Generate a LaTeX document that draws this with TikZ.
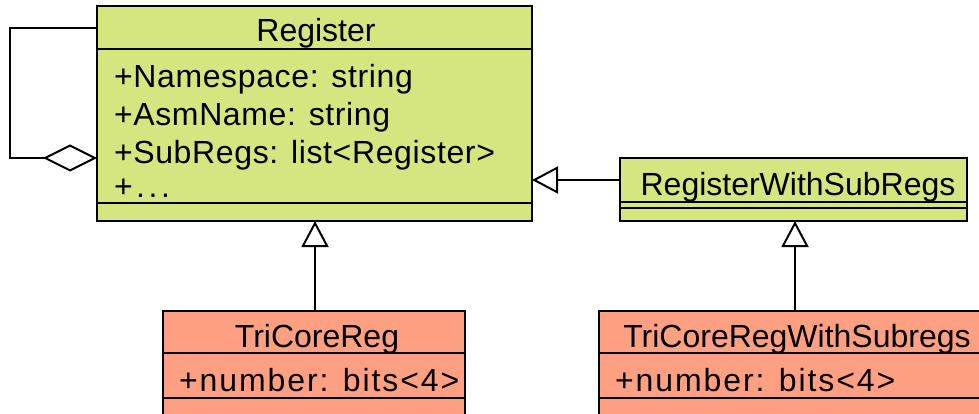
\documentclass[tikz,border=0pt]{standalone}
\usepackage{fontspec}
\setmainfont{Liberation Sans}
\usetikzlibrary{arrows.meta}
\definecolor{clsgreen}{RGB}{213,229,127}
\definecolor{clssalmon}{RGB}{255,160,130}
\begin{document}
\begin{tikzpicture}[x=1pt,y=-1pt,line width=2pt,
  classbox/.style={draw=black,line width=2pt,anchor=north west,inner sep=0pt,outer sep=0pt},
  regbox/.style={classbox,fill=clsgreen},
  tribox/.style={classbox,fill=clssalmon},
  title/.style={inner sep=0pt,anchor=base,font=\fontsize{32}{38}\selectfont},
  attr/.style={inner sep=0pt,anchor=base west,font=\fontsize{32}{38}\selectfont\addfontfeature{LetterSpace=2}},
  dots/.style={inner sep=0pt,anchor=base west,font=\fontsize{32}{38}\selectfont\addfontfeature{LetterSpace=11}},
  sattr/.style={inner sep=0pt,anchor=base west,font=\fontsize{32}{38}\selectfont\addfontfeature{LetterSpace=6}},
  gen/.style={-{Triangle[open,length=26pt,width=27pt]}},
  agg/.style={{Diamond[open,length=54pt,width=27pt]}-}
]
\useasboundingbox (0,0) rectangle (979,414);
\clip (0,0) rectangle (979,414);
% Register
\node[regbox,minimum width=435,minimum height=215] (reg) at (97,6) {};
\draw (reg.west |- 0,49) -- (reg.east |- 0,49);
\draw (reg.west |- 0,203) -- (reg.east |- 0,203);
\node[title] (regt) at (316,42) {Register};
\node[attr] (a1) at (113,88) {+Namespace: string};
\node[attr] (a2) at (113,126) {+AsmName: string};
\node[attr] (a3) at (113,164) {+SubRegs: list<Register>};
\node[dots] (a4) at (113,197) {+...};
% RegisterWithSubRegs
\node[regbox,minimum width=347,minimum height=63] (rws) at (620,158) {};
\draw (rws.west |- 0,202) -- (rws.east |- 0,202);
\draw (rws.west |- 0,208) -- (rws.east |- 0,208);
\node[title] (rwst) at (798,195) {RegisterWithSubRegs};
% TriCoreReg
\node[tribox,minimum width=302,minimum height=140] (tcr) at (163,311) {};
\draw (tcr.west |- 0,353) -- (tcr.east |- 0,353);
\draw (tcr.west |- 0,398) -- (tcr.east |- 0,398);
\node[title] (tcrt) at (317,347) {TriCoreReg};
\node[sattr] (tcra) at (178,391) {+number: bits<4>};
% TriCoreRegWithSubregs
\node[tribox,minimum width=392,minimum height=140] (tcs) at (599,311) {};
\draw (tcs.west |- 0,353) -- (tcs.east |- 0,353);
\draw (tcs.west |- 0,398) -- (tcs.east |- 0,398);
\node[title] (tcst) at (797,347) {TriCoreRegWithSubregs};
\node[sattr] (tcsa) at (614,391) {+number: bits<4>};
% connectors
\draw[agg] (reg.west |- 0,158) -- (10,158) -- (10,28) -- (reg.west |- 0,28);
\draw[gen] (rws.west |- 0,180) -- (reg.east |- 0,180);
\draw[gen] (315,311) -- (315,221);
\draw[gen] (795,311) -- (795,221);
\end{tikzpicture}
\end{document}
